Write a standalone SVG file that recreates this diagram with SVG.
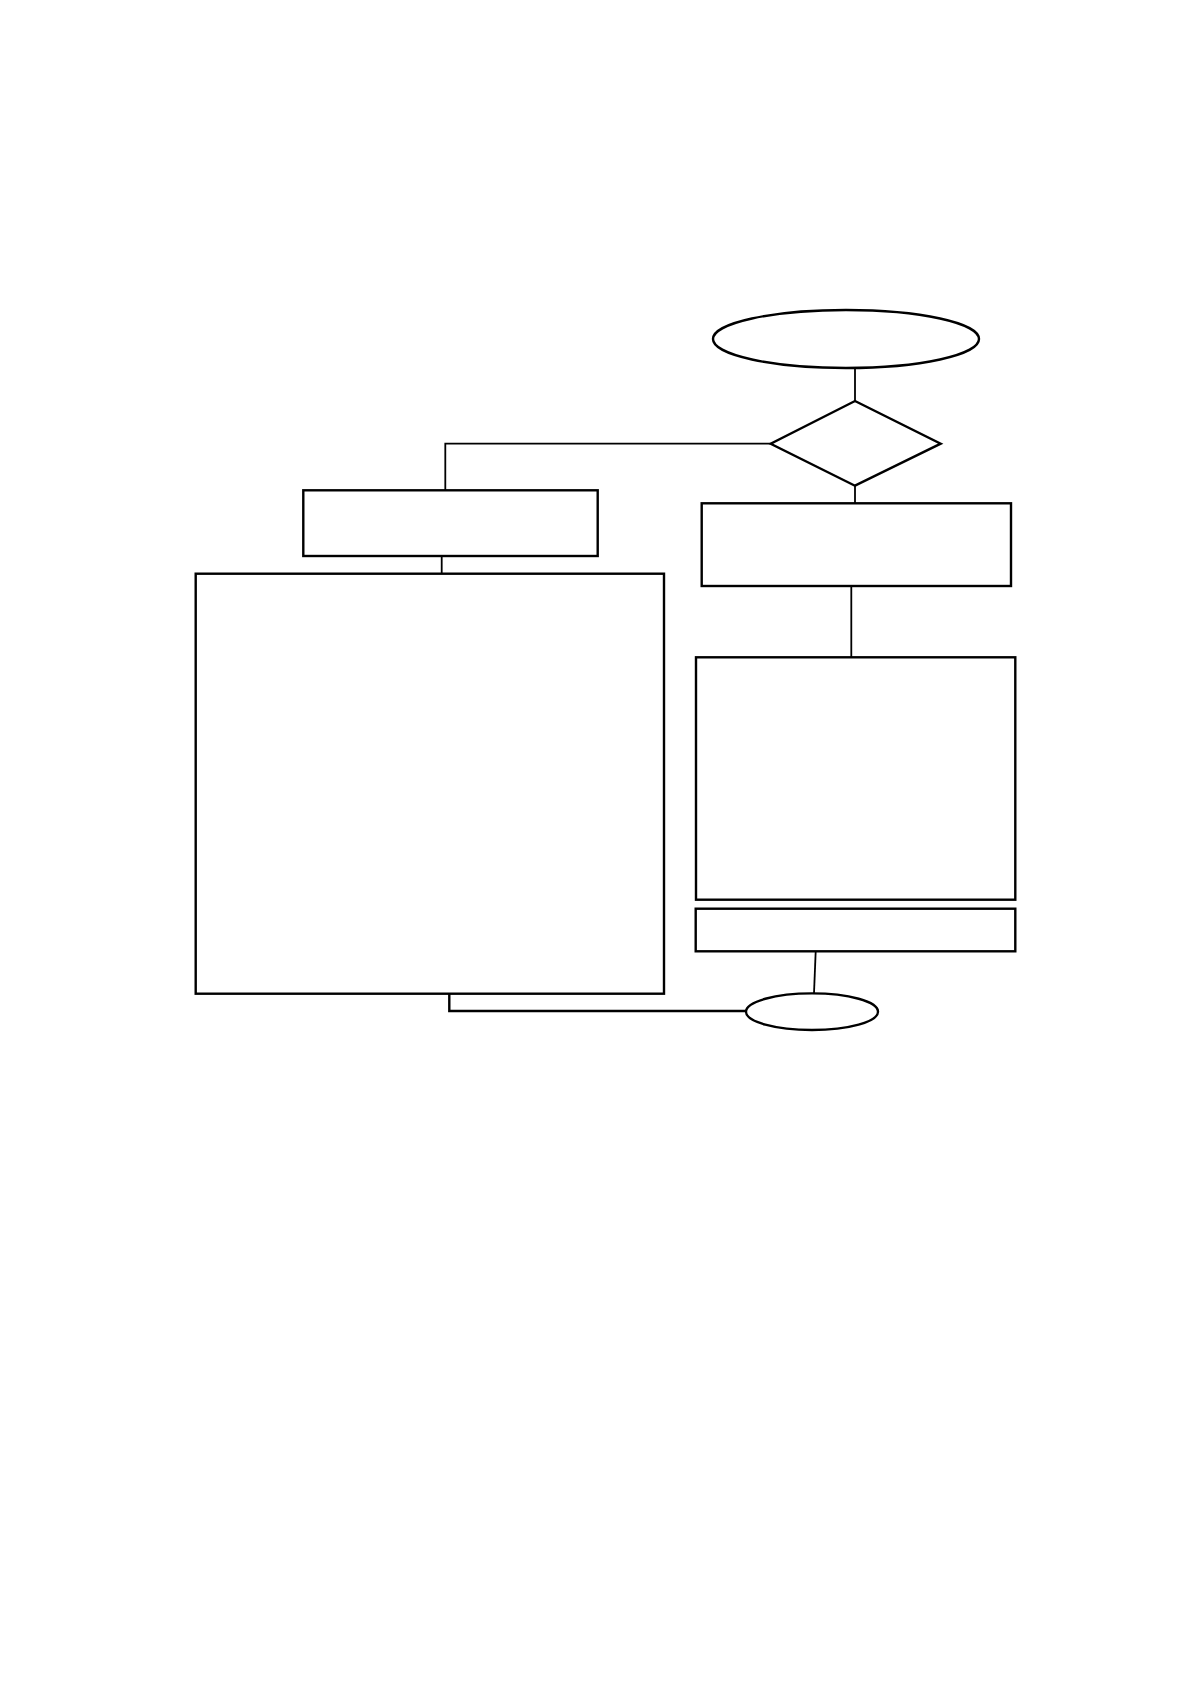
<svg xmlns="http://www.w3.org/2000/svg" width="1190" height="1684" viewBox="0 0 1190 1684">
<style>
.n{fill:#fff;stroke:#000;stroke-width:2.4}
.c{fill:none;stroke:#000;stroke-width:1.8}
</style>
<rect width="1190" height="1684" fill="#fff"/>
<g id="connectors">
<path class="c" d="M855,368 V401"/>
<path class="c" d="M855,486 V503"/>
<path class="c" d="M770.7,443.7 H445.3 V490.3"/>
<path class="c" d="M441.7,556 V573.7"/>
<path class="c" d="M851.3,586 V657.3"/>
<path class="c" d="M815.7,951.3 L814,993.3"/>
<path class="c" style="stroke-width:2.4" d="M449.3,993.7 V1011 H746"/>
</g>
<g id="start"><ellipse class="n" cx="846" cy="339" rx="133" ry="29"/></g>
<g id="decision"><polygon class="n" points="855,401 940.7,443.7 855,485.7 770.7,443.7"/></g>
<g id="box-left-top"><rect class="n" x="303.3" y="490.3" width="294.4" height="65.7"/></g>
<g id="box-left-big"><rect class="n" x="195.7" y="573.7" width="468.3" height="420"/></g>
<g id="box-right-top"><rect class="n" x="701.7" y="503.3" width="309.3" height="82.7"/></g>
<g id="box-right-mid"><rect class="n" x="696" y="657.3" width="319.3" height="242.4"/></g>
<g id="box-right-small"><rect class="n" x="695.7" y="908.7" width="319.6" height="42.6"/></g>
<g id="end"><ellipse class="n" cx="812" cy="1011.7" rx="66" ry="18.3"/></g>
</svg>
